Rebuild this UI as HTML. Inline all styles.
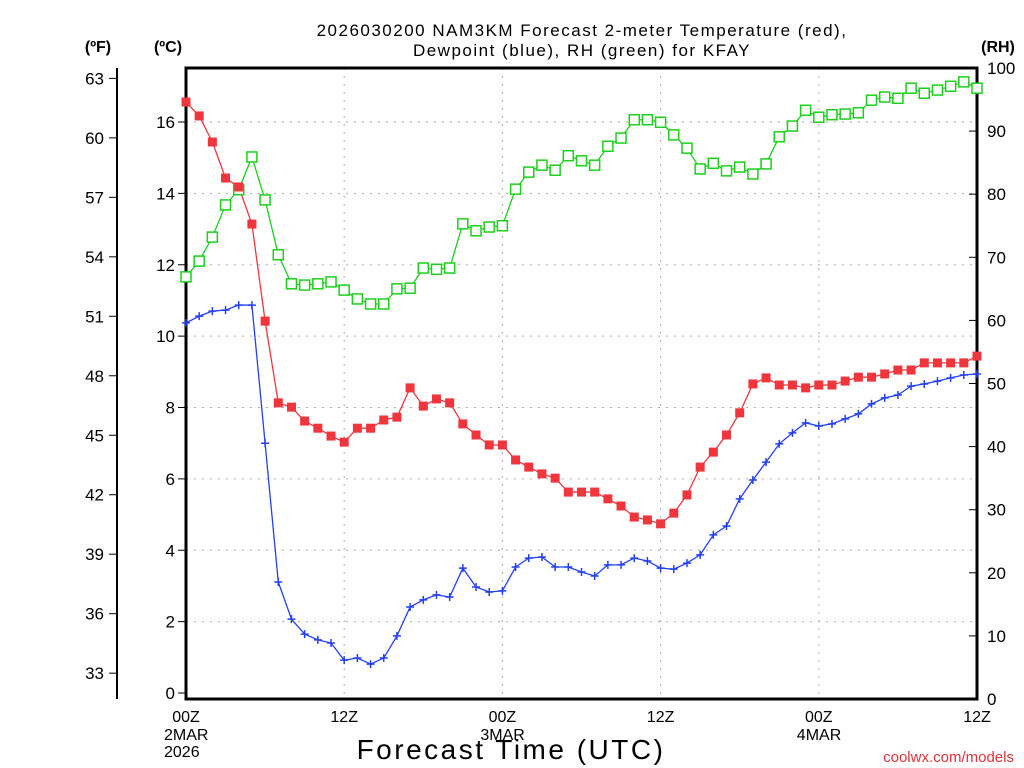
<!DOCTYPE html>
<html><head><meta charset="utf-8">
<style>
html,body{margin:0;padding:0;background:#fff;}
svg{display:block;font-family:"Liberation Sans",sans-serif;}
</style></head>
<body>
<svg id="chart" width="1024" height="768" viewBox="0 0 1024 768">
<text x="582" y="36" font-size="17" letter-spacing="1.5" text-anchor="middle">2026030200 NAM3KM Forecast 2-meter Temperature (red),</text>
<text x="582" y="56" font-size="17" letter-spacing="1.5" text-anchor="middle">Dewpoint (blue), RH (green) for KFAY</text>
<text x="98" y="52" font-size="16" font-weight="bold" text-anchor="middle">(ºF)</text>
<text x="168" y="52" font-size="16" font-weight="bold" text-anchor="middle">(ºC)</text>
<text x="998" y="52" font-size="16" font-weight="bold" text-anchor="middle">(RH)</text>
<g id="grid"></g>
<g id="axes"></g>
<g id="series"></g>
<text x="511" y="759" font-size="28" letter-spacing="2.5" text-anchor="middle">Forecast Time (UTC)</text>
<text x="1014" y="762" font-size="15" fill="#e8313a" text-anchor="end">coolwx.com/models</text>
</svg>
<script>
const tempC=[16.56,16.17,15.44,14.43,14.18,13.14,10.42,8.13,8.01,7.62,7.42,7.20,7.03,7.42,7.42,7.65,7.73,8.55,8.04,8.24,8.13,7.54,7.23,6.95,6.95,6.53,6.33,6.14,6.02,5.63,5.63,5.63,5.44,5.24,4.93,4.85,4.74,5.04,5.55,6.33,6.75,7.23,7.85,8.66,8.83,8.63,8.63,8.55,8.63,8.63,8.74,8.85,8.85,8.94,9.05,9.05,9.25,9.25,9.25,9.25,9.44];
const dewC=[10.37,10.56,10.70,10.73,10.87,10.87,7.00,3.11,2.07,1.65,1.49,1.40,0.92,0.98,0.81,0.98,1.60,2.41,2.61,2.75,2.69,3.50,2.97,2.83,2.86,3.53,3.78,3.81,3.53,3.53,3.39,3.28,3.59,3.59,3.78,3.70,3.50,3.47,3.64,3.87,4.43,4.68,5.44,5.97,6.47,6.98,7.29,7.57,7.48,7.54,7.68,7.82,8.10,8.27,8.35,8.60,8.66,8.74,8.83,8.91,8.94];
const rh=[66.9,69.4,73.2,78.3,80.7,85.9,79.1,70.4,65.8,65.6,65.8,66.1,64.8,63.4,62.6,62.6,65.0,65.1,68.3,68.1,68.3,75.3,74.2,74.8,75.0,80.8,83.5,84.6,83.8,86.1,85.3,84.6,87.6,88.9,91.8,91.8,91.4,89.4,87.3,84.0,84.9,83.7,84.3,83.2,84.8,89.1,90.8,93.3,92.2,92.6,92.7,92.9,94.9,95.4,95.2,96.8,96.0,96.5,97.1,97.8,96.8];
const cTicks=[0,2,4,6,8,10,12,14,16];
const fTicks=[33,36,39,42,45,48,51,54,57,60,63];
const rhTicks=[0,10,20,30,40,50,60,70,80,90,100];
const xTickHours=[0,12,24,36,48,60];
const xTickLabels=["00Z","12Z","00Z","12Z","00Z","12Z"];
const xDateLabels=[["2MAR","2026"],[],["3MAR"],[],["4MAR"],[]];

const L=186,R=977,T=68,B=699;
const NS="http://www.w3.org/2000/svg";
const xS=h=>L+(R-L)*h/60;
const yC=c=>693-c*(693-122)/16;
const yF=f=>yC((f-32)*5/9);
const yR=r=>B-r*(B-T)/100;
function mk(tag,attrs,parent,txt){const e=document.createElementNS(NS,tag);for(const k in attrs)e.setAttribute(k,attrs[k]);if(txt!==undefined)e.textContent=txt;parent.appendChild(e);return e;}
const grid=document.getElementById('grid'),axes=document.getElementById('axes'),ser=document.getElementById('series');

cTicks.forEach(c=>{if(c>0){const g=mk('line',{x1:L,x2:R,y1:yC(c),y2:yC(c),stroke:'#aaa','stroke-dasharray':'2 6'},grid);

}
const t=mk('line',{x1:L-8,x2:L,y1:yC(c),y2:yC(c),stroke:'#000'},axes);


const tx=mk('text',{x:L-11,y:yC(c)+6,'font-size':17,'text-anchor':'end'},axes,String(c));

});
xTickHours.forEach((h,i)=>{if(h>0&&h<60){const g=mk('line',{x1:xS(h),x2:xS(h),y1:T,y2:B,stroke:'#aaa','stroke-dasharray':'2 6'},grid);

}
const tx=mk('text',{x:xS(h),y:722,'font-size':16,'text-anchor':'middle'},axes,xTickLabels[i]);


xDateLabels[i].forEach((d,j)=>{const e=mk('text',{x:xS(h)-22,y:740+j*17,'font-size':16},axes,d);

});});
const fl=mk('line',{x1:117,x2:117,y1:68,y2:699,stroke:'#000','stroke-width':2},axes);


fTicks.forEach(f=>{const t=mk('line',{x1:109,x2:117,y1:yF(f),y2:yF(f),stroke:'#000'},axes);


const tx=mk('text',{x:104,y:yF(f)+6,'font-size':17,'text-anchor':'end'},axes,String(f));

});
rhTicks.forEach(r=>{const t=mk('line',{x1:R-8,x2:R,y1:yR(r),y2:yR(r),stroke:'#000'},axes);


const tx=mk('text',{x:R+10,y:yR(r)+6,'font-size':17},axes,String(r));

});
const box=mk('rect',{x:L,y:T,width:R-L,height:B-T,fill:'none',stroke:'#000','stroke-width':3},axes);



function line(vals,yf,color,name){const p=mk('polyline',{points:vals.map((v,i)=>xS(i)+','+yf(v)).join(' '),fill:'none',stroke:color,'stroke-width':1.3},ser);

}
line(rh,yR,'#19d219','rh-line');
line(tempC,yC,'#f0353d','temperature-line');
line(dewC,yC,'#2340f5','dewpoint-line');
rh.forEach((v,i)=>{const m=mk('rect',{x:xS(i)-5,y:yR(v)-5,width:10,height:10,fill:'#fff',stroke:'#19d219','stroke-width':1.5},ser);

});
tempC.forEach((v,i)=>{const m=mk('rect',{x:xS(i)-4.5,y:yC(v)-4.5,width:9,height:9,fill:'#f0353d'},ser);

});
dewC.forEach((v,i)=>{const x=xS(i),y=yC(v);const m=mk('path',{d:`M${x-4},${y}H${x+4}M${x},${y-4}V${y+4}`,stroke:'#2340f5','stroke-width':1.5},ser);

});
</script>
</body></html>
